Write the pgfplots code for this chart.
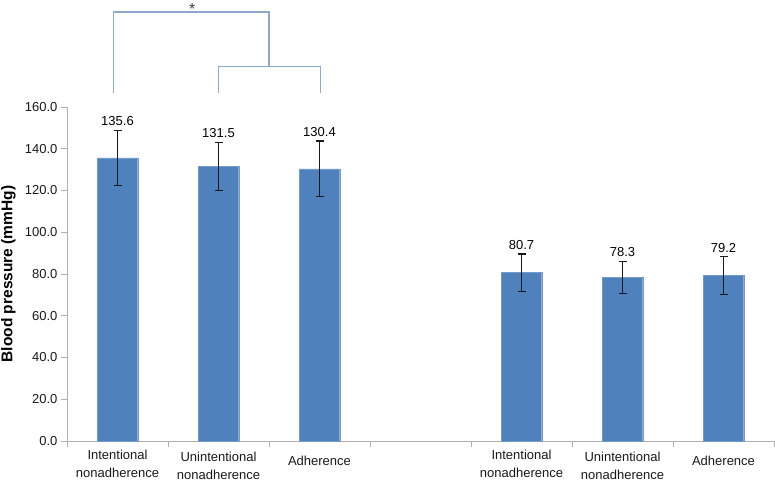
\documentclass[border=0pt]{standalone}
\usepackage{pgfplots}
\pgfplotsset{compat=1.18}
\usepackage{pgfplotstable}
\usepackage{fontspec}
\setmainfont{Liberation Sans}
\definecolor{barblue}{HTML}{4F81BD}
\definecolor{brk}{HTML}{8EA8CE}
\definecolor{axgray}{HTML}{B0B0B0}

\pgfplotstableread{
x y err top lab
0 135.6 13.3 148.9 135.6
1 131.5 11.7 143.2 131.5
2 130.4 13.3 143.7 130.4
4 80.7 8.9 89.6 80.7
5 78.3 7.8 86.1 78.3
6 79.2 9.1 88.3 79.2
}\data

\newcommand{\dn}[1]{\rule{0pt}{#1}}
\begin{document}
\begin{tikzpicture}
\begin{axis}[
  scale only axis,
  width=707bp, height=334bp,
  xmin=-0.5, xmax=6.5,
  ymin=0, ymax=160,
  ytick={0,20,...,160},
  axis lines=left,
  axis line style={axgray, line width=0.8pt, -},
  tick align=outside,
  major tick length=6bp,
  tick style={axgray, line width=0.8pt},
  xtick={-0.5,0.5,1.5,2.5,3.5,4.5,5.5,6.5},
  xticklabels={},
  extra x ticks={0,1,2,4,5,6},
  extra x tick labels={Intentional\\nonadherence, \dn{11bp}Unintentional\\nonadherence, \dn{15bp}Adherence, Intentional\\nonadherence, \dn{11bp}Unintentional\\nonadherence, \dn{15bp}Adherence},
  extra x tick style={tick style={draw=none}},
  x tick label style={align=center, font=\fontsize{13bp}{17.5bp}\selectfont, text=black!90, yshift=0bp},
  y tick label style={font=\fontsize{13bp}{15bp}\selectfont, text=black!90},
  /pgf/number format/assume math mode=true,
  yticklabel={\pgfmathprintnumber[fixed,fixed zerofill,precision=1]{\tick}},
  ylabel={\bfseries Blood pressure (mmHg)},
  ylabel style={at={(axis description cs:-0.083,0.5)}, anchor=center, rotate=0, font=\fontsize{15.5bp}{18bp}\selectfont},
  clip=false,
]
\addplot[ybar, bar width=0.4, bar shift=0pt, fill=barblue, draw=barblue!80!white,
  error bars/.cd, y dir=both, y explicit,
  error bar style={black!90, line width=1.1pt},
  error mark options={rotate=90, mark size=4bp, black!90, line width=1.1pt}]
  table[x=x, y=y, y error=err] {\data};
\addplot[draw=none, mark=none, nodes near coords, point meta=explicit symbolic,
  every node near coord/.style={anchor=south, yshift=1bp, font=\fontsize{13bp}{15bp}\selectfont, text=black}]
  table[x=x, y=top, meta=lab] {\data};
% significance bracket
\addplot[brk, line width=1.3pt, mark=none] coordinates {(-0.04,166.5) (-0.04,205.5) (1.5,205.5) (1.5,179.3)};
\addplot[brk, line width=1.3pt, mark=none] coordinates {(1,166.5) (1,179.3) (2.01,179.3) (2.01,166.5)};
\node[font=\fontsize{16bp}{18bp}\selectfont, text=black!75] at (axis cs:0.74,207) {*};
\coordinate (bl) at (rel axis cs:0,0);
\coordinate (tr) at (rel axis cs:1,1);
\end{axis}
\pgfresetboundingbox
\path[use as bounding box] ([shift={(-67bp,-42bp)}]bl) rectangle ([shift={(1bp,107bp)}]tr);
\end{tikzpicture}
\end{document}
